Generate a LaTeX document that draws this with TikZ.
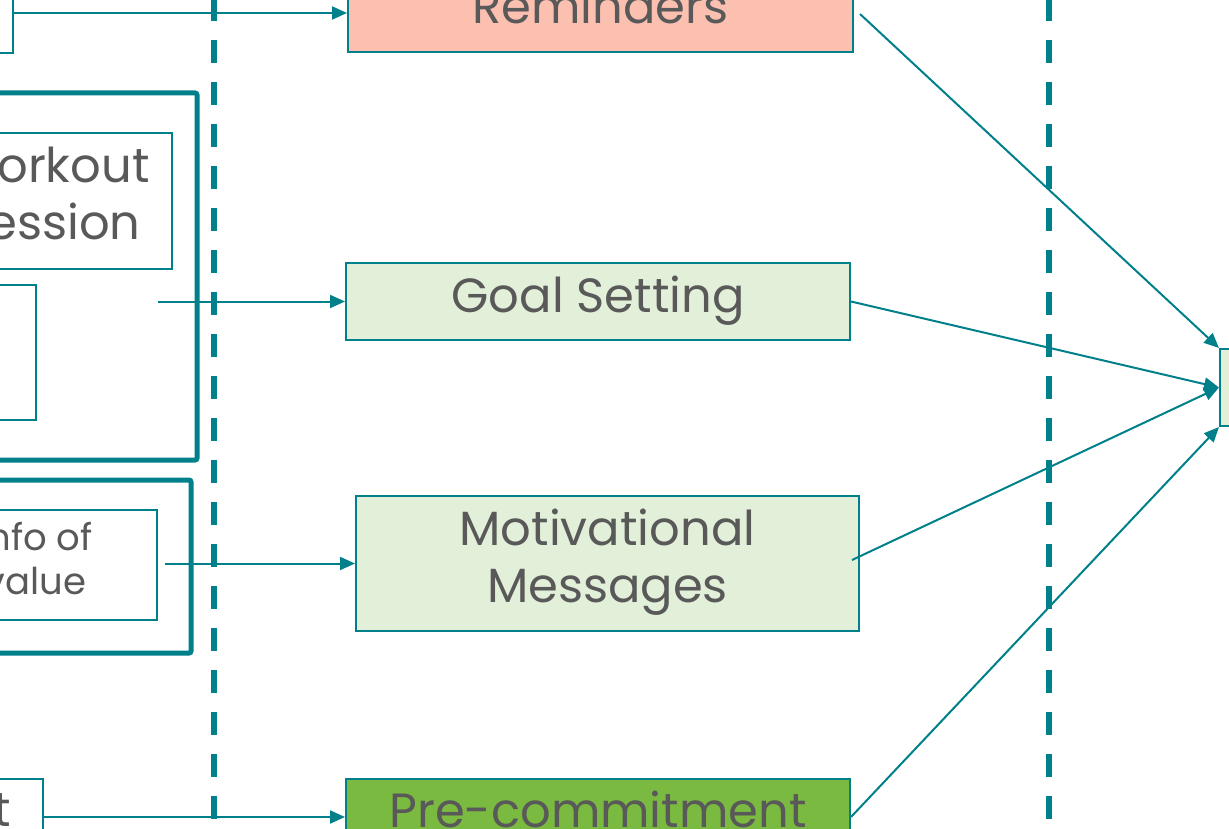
\documentclass[tikz,border=0pt]{standalone}
\usepackage{fontspec}
\setmainfont{Poppins}
\usetikzlibrary{arrows.meta}
\definecolor{tealc}{RGB}{0,128,138}
\definecolor{txtc}{RGB}{89,89,89}
\definecolor{salmonc}{RGB}{251,192,176}
\definecolor{lgreenc}{RGB}{226,240,217}
\definecolor{dgreenc}{RGB}{123,186,64}
\tikzset{
  box/.style={draw=tealc, line width=2pt, text=txtc, font=\fontsize{48}{57}\selectfont,
    align=center, inner sep=0pt, text height=34pt, text depth=13pt},
  twoline/.style={text height=91pt, text depth=13pt},
  smallbox/.style={box, font=\fontsize{37}{44}\selectfont, text height=67pt, text depth=9pt},
  group/.style={draw=tealc, line width=5pt, rounded corners=2pt, inner sep=0pt},
  conn/.style={draw=tealc, line width=2pt, -{Triangle[length=15pt,width=13pt]}},
  sepline/.style={draw=tealc, line width=5.5pt, dash pattern=on 23pt off 19pt},
  plain/.style={text=txtc, font=\fontsize{48}{57}\selectfont, inner sep=0pt},
}
\begin{document}
\begin{tikzpicture}[x=1pt,y=-1pt]
\useasboundingbox (0,0) rectangle (1229,829);
\clip (0,0) rectangle (1229,829);

% separators
\coordinate (s1a) at (214,-2);
\coordinate (s1b) at (214,819);
\coordinate (s2a) at (1049,-2);
\coordinate (s2b) at (1049,819);
\draw[sepline] (s1a) -- (s1b);
\draw[sepline] (s2a) -- (s2b);

% left column
\node[box, minimum width=213pt, minimum height=80pt] (topL) at (-93.5,13) {};
\node[group, minimum width=257pt, minimum height=367pt] (grpA) at (68.5,276.5) {};
\node[box, twoline, minimum width=244pt, minimum height=136pt] (work) at (50,201) {Workout\\Session};
\node[box, minimum width=116pt, minimum height=135pt] (inA) at (-22,352.5) {};
\node[group, minimum width=251pt, minimum height=173pt] (grpB) at (65.5,566.5) {};
\node[smallbox, minimum width=243pt, minimum height=110pt] (info) at (35.5,565) {Info of\\value};
\node[box, minimum width=143pt, minimum height=81pt] (botL) at (-28.5,819.5) {};
\node[plain, anchor=base east] (botT) at (11,826) {t};

% middle column
\node[box, fill=salmonc, minimum width=505pt, minimum height=78pt] (rem) at (600.5,13) {Reminders};
\node[box, fill=lgreenc, minimum width=504pt, minimum height=77pt] (goal) at (598,301.5) {Goal Setting};
\node[box, twoline, fill=lgreenc, minimum width=503pt, minimum height=135pt] (mot) at (607.5,563.5) {Motivational\\Messages};
\node[box, fill=dgreenc, minimum width=504pt, minimum height=76pt] (pre) at (598,817) {Pre-commitment};

% right column
\node[box, fill=lgreenc, minimum width=40pt, minimum height=77pt] (tgt) at (1240,387.5) {};

% connectors
\coordinate (wStart) at (158,301.5);
\coordinate (iStart) at (165,563.5);
\coordinate (remOut) at (860,14);
\coordinate (motOut) at (852,560);
\draw[conn] (topL.east) -- (rem.west);
\draw[conn] (wStart) -- (goal.west);
\draw[conn] (iStart) -- (mot.west);
\draw[conn] (botL.east |- pre.west) -- (pre.west);
\draw[conn] (remOut) -- (tgt.north west);
\draw[conn] (goal.east) -- (tgt.west);
\draw[conn] (motOut) -- (tgt.west);
\draw[conn] (pre.east) -- (tgt.south west);
\end{tikzpicture}
\end{document}
